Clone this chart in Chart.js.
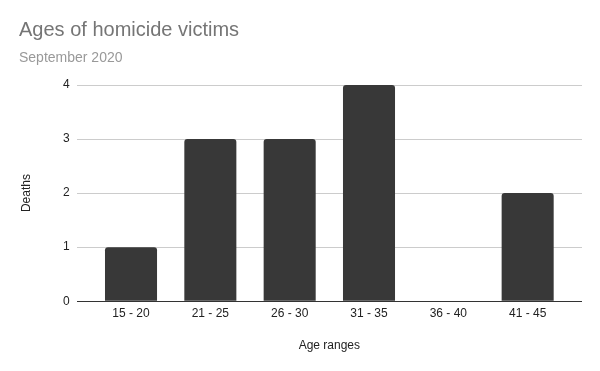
<!DOCTYPE html>
<html>
<head>
<meta charset="utf-8">
<script src="https://cdn.jsdelivr.net/npm/chart.js@4/dist/chart.umd.min.js"></script>
<style>
  html, body { margin: 0; padding: 0; background: #fff; }
  #wrap { width: 600px; height: 371px; }
</style>
</head>
<body>
<div id="wrap"><canvas id="myChart"></canvas></div>
<script>

var ageRanges = ['15 - 20', '21 - 25', '26 - 30', '31 - 35', '36 - 40', '41 - 45'];
var deaths = [1, 3, 3, 4, 0, 2];
var yTicks = [0, 1, 2, 3, 4];

var points = [];
for (var i = 0; i < ageRanges.length; i++) {
	points.push({ x: i, y: deaths[i] });
}

Chart.defaults.font.family = 'Arial, "Liberation Sans", sans-serif';
Chart.defaults.color = '#222';

var ctx = document.getElementById('myChart').getContext('2d');
var chart = new Chart(ctx, {
	type: 'bar',
	data: {
		datasets: [{
			label: 'Deaths',
			data: points,
			backgroundColor: '#383838',
			borderRadius: 3,
			categoryPercentage: 1,
			barPercentage: 0.656
		}]
	},
	options: {
		responsive: true,
		maintainAspectRatio: false,
		animation: false,
		layout: {
			padding: { left: 19, right: 18, top: 0, bottom: 18 }
		},
		plugins: {
			legend: { display: false },
			tooltip: { enabled: false },
			title: {
				display: true,
				text: 'Ages of homicide victims',
				align: 'start',
				color: '#757575',
				font: { size: 20, weight: 'normal' },
				padding: { top: 18, bottom: 0 }
			},
			subtitle: {
				display: true,
				text: 'September 2020',
				align: 'start',
				color: '#999',
				font: { size: 14, weight: 'normal' },
				padding: { top: 7.6, bottom: 18.6 }
			}
		},
		scales: {
			x: {
				type: 'linear',
				offset: false,
				min: -0.685,
				max: 5.685,
				grid: { display: false, drawTicks: false },
				border: { display: false },
				ticks: {
					stepSize: 1,
					includeBounds: false,
					maxRotation: 0,
					padding: 5.5,
					color: '#222',
					font: { size: 12 },
					callback: function(value) {
						return ageRanges[value];
					}
				},
				title: {
					display: true,
					text: 'Age ranges',
					color: '#222',
					font: { size: 12 },
					padding: { top: 12, bottom: 0 }
				}
			},
			y: {
				min: 0,
				max: 4,
				border: { display: false },
				grid: {
					drawTicks: false,
					color: function(c) {
						return c.tick && c.tick.value === 0 ? '#333' : '#ccc';
					}
				},
				afterBuildTicks: function(scale) {
					scale.ticks = yTicks.map(function(v) { return { value: v }; });
				},
				ticks: {
					padding: 7,
					color: '#222',
					font: { size: 12 }
				},
				title: {
					display: true,
					text: 'Deaths',
					color: '#222',
					font: { size: 12 },
					padding: { top: 0.8, bottom: 21.8 }
				}
			}
		}
	}
});

</script>
</body>
</html>
